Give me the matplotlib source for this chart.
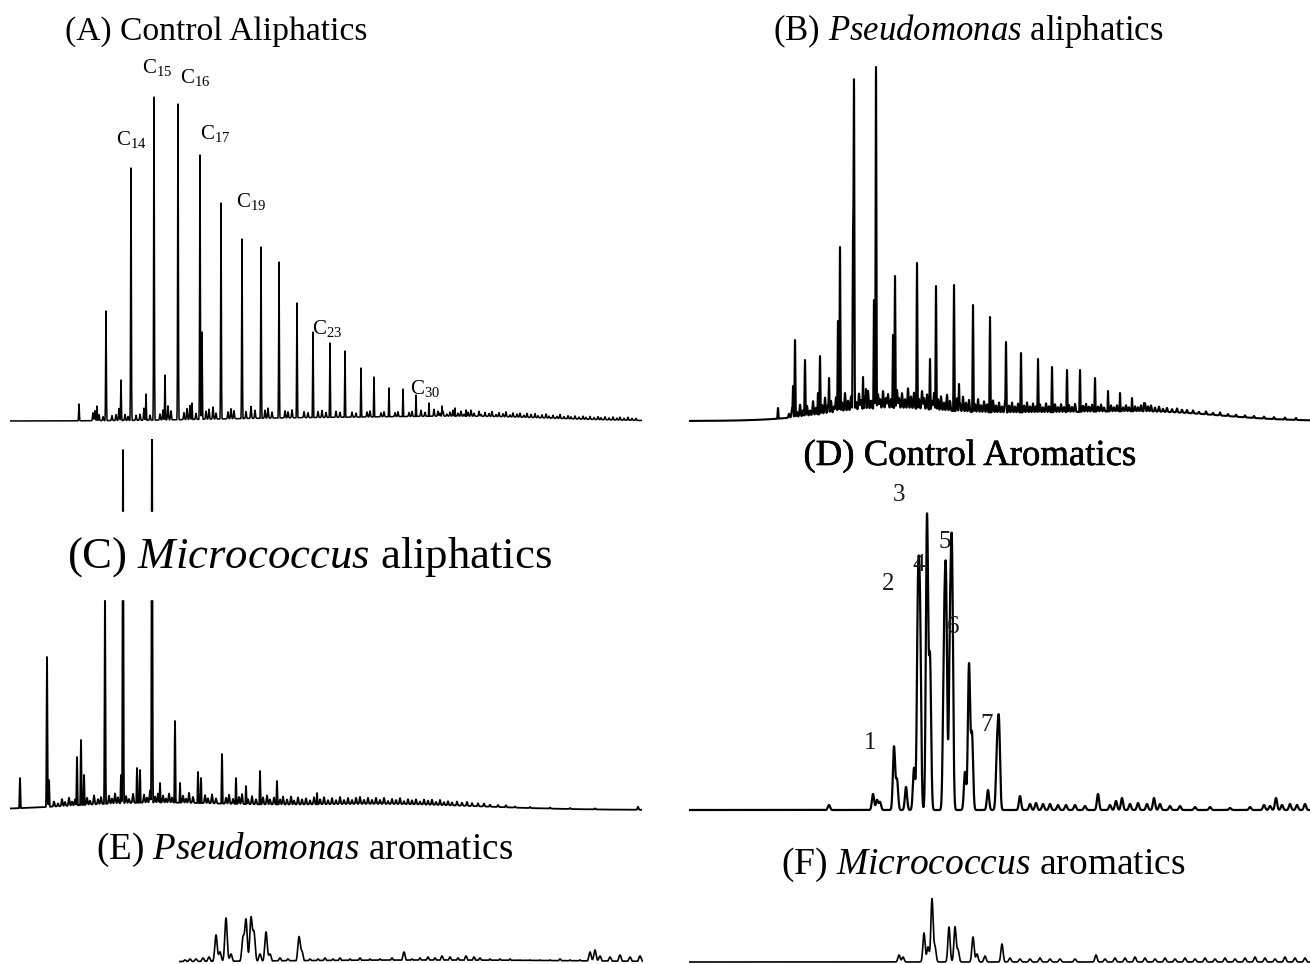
import numpy as np
import matplotlib
matplotlib.use("Agg")
import matplotlib.pyplot as plt
import matplotlib.patheffects as pe

plt.rcParams["font.family"] = ["Liberation Serif", "DejaVu Serif"]
plt.rcParams["mathtext.fontset"] = "custom"
plt.rcParams["mathtext.rm"] = "Liberation Serif"
plt.rcParams["mathtext.it"] = "Liberation Serif:italic"

W, H = 1310, 964

# ---- data: retention time (min) and peak height (abundance, arbitrary units) ----
# (A) control aliphatics
a_rt = [6.9, 8.7, 9.6, 11.1, 12.1, 13.6, 14.4, 15.5, 16.8, 18.2, 19.0, 19.2, 21.1, 23.2,
        25.1, 26.9, 28.7, 30.3, 32.0, 33.5, 35.1, 36.4, 37.9, 39.3, 40.6, 41.9, 43.2, 44.5, 45.6]
a_ht = [17, 15, 110, 41, 253, 27, 324, 46, 317, 18, 266, 89, 218, 182,
        174, 159, 118, 89, 78, 70, 53, 44, 33, 32, 26, 18, 15, 13, 11]
a_noise_rt = [8.3, 8.5, 8.9, 9.3, 10.2, 10.6, 10.9, 11.5, 11.8, 12.6, 13.0, 13.4, 14.0, 15.0,
              15.3, 15.8, 16.1, 17.4, 17.7, 18.0, 18.6, 19.6, 19.9, 20.3, 20.6, 21.8, 22.1, 22.4,
              23.6, 24.1, 24.5, 25.5, 25.8, 26.2, 27.5, 27.8, 28.2, 29.4, 29.8, 30.8, 31.2, 31.6,
              32.6, 33.0, 34.2, 34.6, 35.7, 36.0, 37.1, 37.4, 38.5, 38.8, 39.9, 40.2, 41.1, 41.5,
              42.4, 42.8, 43.0, 43.3, 43.7, 44.0, 44.3, 44.8, 45.1, 45.4, 45.8, 46.1, 46.4, 46.9,
              47.1, 47.5, 47.9, 48.2, 48.6, 48.9, 49.3, 49.6, 50.0, 50.3, 50.7, 51.0, 51.4, 51.7,
              52.1, 52.5, 52.8, 53.2, 53.6, 53.9, 54.3, 54.7, 55.0, 55.4, 55.8, 56.1, 56.5, 56.9,
              57.3, 57.6, 58.0, 58.4, 58.8, 59.1, 59.5, 59.9, 60.3, 60.7, 61.0, 61.4, 61.8, 62.2,
              62.6]
a_noise_ht = [8, 10, 6, 4, 5, 6, 12, 6, 4, 5, 6, 12, 5, 6,
              10, 14, 9, 7, 11, 14, 6, 8, 10, 12, 6, 7, 10, 8,
              7, 12, 8, 8, 10, 6, 7, 6, 8, 6, 5, 6, 7, 5,
              6, 5, 5, 4, 5, 6, 4, 5, 4, 5, 4, 5, 6, 4,
              7, 5, 3, 5, 2, 4, 6, 3, 5, 2, 4, 6, 3, 5,
              2, 4, 3, 5, 2, 4, 3, 5, 2, 4, 3, 4, 2, 4,
              3, 4, 2, 3, 4, 2, 3, 2, 4, 2, 3, 2, 3, 2,
              3, 2, 3, 2, 3, 2, 3, 2, 3, 2, 3, 2, 3, 2,
              2]
a_hump_rt = [30.0, 47.0]
a_hump_ht = [3, 4]
a_hump_sd = [10.0, 8.0]
a_names = ["C$_{14}$", "C$_{15}$", "C$_{16}$", "C$_{17}$", "C$_{19}$", "C$_{23}$", "C$_{30}$"]

# (B) Pseudomonas aliphatics
b_rt = [8.9, 10.4, 10.6, 11.6, 12.9, 13.1, 14.0, 14.9, 15.1, 16.4, 16.5, 17.4, 17.7, 18.5,
        18.7, 20.4, 20.6, 22.8, 24.1, 24.7, 26.5, 27.0, 28.4, 30.1, 31.7, 33.2, 34.9, 36.3,
        37.8, 39.1, 40.6, 41.9, 43.1, 44.3, 45.5]
b_ht = [13, 35, 81, 61, 28, 65, 43, 100, 174, 176, 334, 44, 32, 121,
        354, 86, 145, 158, 62, 135, 136, 37, 116, 104, 79, 68, 62, 54,
        51, 51, 43, 30, 28, 23, 18]
b_noise_rt = [10.0, 10.3, 10.8, 11.1, 11.4, 11.8, 12.1, 12.4, 12.7, 13.3, 13.6, 13.9, 14.2,
              14.5, 14.7, 15.3, 15.6, 15.9, 16.2, 16.7, 17.0, 17.2, 17.6, 17.9, 18.2, 18.9,
              19.1, 19.4, 19.7, 19.9, 20.2, 20.8, 21.0, 21.3, 21.6, 21.9, 22.2, 22.5, 23.0,
              23.3, 23.5, 23.8, 24.3, 24.5, 24.9, 25.2, 25.5, 25.8, 26.1, 26.8, 27.1, 27.4,
              27.7, 28.0, 28.6, 28.9, 29.2, 29.5, 29.8, 30.4, 30.7, 31.0, 31.3, 31.6, 32.0,
              32.3, 32.6, 32.9, 33.5, 33.8, 34.1, 34.4, 34.7, 35.1, 35.4, 35.7, 36.0, 36.6,
              36.9, 37.2, 37.5, 38.0, 38.3, 38.6, 39.4, 39.7, 40.0, 40.3, 40.9, 41.2, 41.5,
              42.2, 42.5, 42.8, 43.4, 43.7, 44.0, 44.6, 44.9, 45.2, 45.6, 45.9, 46.2, 46.6,
              47.0, 47.4, 47.8, 48.3, 48.8, 49.3, 49.8, 50.4, 51.0, 51.7, 52.4, 53.1, 53.9,
              54.7, 55.6, 56.5, 57.5, 58.5, 59.6, 60.7]
b_noise_ht = [4, 9, 5, 12, 6, 10, 5, 14, 7, 9, 16, 8, 12,
              6, 15, 9, 18, 10, 14, 8, 16, 9, 13, 18, 8, 14,
              9, 17, 10, 14, 9, 18, 10, 15, 9, 20, 12, 16, 10,
              18, 11, 15, 9, 17, 11, 14, 8, 16, 10, 13, 8, 15,
              9, 12, 8, 13, 7, 11, 8, 12, 7, 10, 6, 11, 7,
              10, 6, 9, 7, 10, 6, 9, 6, 8, 5, 9, 6, 8,
              5, 8, 5, 7, 5, 8, 6, 8, 5, 7, 5, 7, 4,
              6, 4, 6, 4, 6, 4, 5, 4, 6, 8, 5, 6, 4,
              5, 3, 4, 3, 4, 3, 3, 3, 2, 3, 2, 3, 2,
              2, 2, 2, 2, 2, 2, 2]
b_hump_rt = [19.0, 35.0, 48.0]
b_hump_ht = [10, 8, 5]
b_hump_sd = [5.5, 11.0, 6.0]

# (C) Micrococcus aliphatics
c_rt = [1.0, 3.7, 3.9, 6.7, 7.1, 7.4, 9.5, 11.1, 11.3, 12.7, 13.0, 14.2, 15.0, 16.5,
        17.0, 18.8, 19.1, 21.2, 22.6, 23.6, 25.0, 26.7, 30.7]
c_ht = [32, 153, 30, 53, 70, 35, 215, 35, 360, 42, 40, 400, 27, 89,
        27, 38, 32, 56, 32, 24, 39, 29, 17]
c_noise_rt = [4.4, 4.8, 5.2, 5.5, 5.9, 6.2, 6.5, 7.7, 8.0, 8.4, 8.8, 9.1, 9.9, 10.2, 10.5,
              10.8, 11.6, 11.9, 12.3, 13.4, 13.7, 14.0, 14.5, 14.8, 15.3, 15.6, 15.9, 16.2,
              17.3, 17.6, 17.9, 18.3, 19.5, 19.8, 20.2, 20.6, 21.6, 21.9, 22.3, 22.9, 23.2,
              23.8, 24.2, 24.6, 25.3, 25.7, 26.0, 26.4, 27.0, 27.3, 27.7, 28.1, 28.4, 28.8,
              29.2, 29.6, 30.0, 30.4, 31.0, 31.4, 31.8, 32.2, 32.6, 33.0, 33.4, 33.8, 34.2,
              34.6, 35.0, 35.4, 35.8, 36.2, 36.6, 37.0, 37.4, 37.8, 38.2, 38.6, 39.0, 39.4,
              39.8, 40.2, 40.6, 41.0, 41.4, 41.8, 42.2, 42.6, 43.0, 43.4, 43.8, 44.2, 44.7,
              45.2, 45.7, 46.2, 46.8, 47.4, 48.0, 48.8, 49.6, 50.5, 52.0, 54.0, 56.0, 58.5,
              62.8]
c_noise_ht = [5, 3, 7, 4, 8, 4, 6, 7, 4, 9, 5, 7, 8, 5, 10,
              6, 7, 4, 9, 8, 5, 12, 6, 9, 7, 4, 9, 5,
              7, 4, 10, 6, 8, 5, 9, 5, 6, 9, 5, 7, 10,
              5, 8, 5, 7, 9, 5, 7, 5, 8, 5, 8, 4, 7,
              5, 6, 4, 7, 5, 7, 4, 6, 4, 7, 4, 6, 4,
              6, 7, 4, 6, 4, 6, 4, 6, 3, 5, 4, 6, 3,
              5, 4, 5, 3, 5, 4, 5, 3, 5, 3, 4, 3, 4,
              3, 4, 3, 3, 3, 2, 2, 2, 1, 1, 1, 1, 1,
              3]
c_hump_rt = [14.0, 37.0]
c_hump_ht = [7, 6]
c_hump_sd = [8.0, 10.0]

# (D) control aromatics
d_rt = [14.0, 18.4, 18.8, 19.1, 20.5, 20.8, 21.7, 22.5, 22.9, 23.1, 23.8, 24.1, 25.5, 25.7,
        26.1, 26.3, 27.6, 28.0, 28.3, 29.9, 30.8, 31.0, 33.1, 34.1, 34.7, 35.4, 36.1, 36.9,
        37.7, 38.6, 39.6, 40.9, 42.1, 42.7, 43.3, 44.1, 44.9, 45.8, 46.5, 47.1, 48.1, 49.1,
        50.6, 52.1, 54.1, 56.1, 57.5, 58.1, 58.7, 59.3, 60.1, 60.8, 61.6]
d_ht = [5, 16, 10, 8, 63, 30, 23, 42, 202, 180, 293, 150, 150, 211,
        160, 237, 38, 145, 75, 20, 55, 82, 14, 6, 7, 6, 6, 5,
        5, 5, 4, 16, 5, 9, 12, 6, 7, 6, 12, 6, 4, 4,
        3, 3, 2, 3, 5, 4, 12, 5, 6, 5, 6]
d_names = ["1", "2", "3", "4", "5", "6", "7"]

# (E) Pseudomonas aromatics
e_rt = [0.6, 1.1, 1.7, 2.4, 3.0, 3.7, 4.1, 4.7, 5.2, 6.4, 6.7, 7.2, 7.5, 8.1,
        8.7, 9.1, 10.1, 10.9, 12.0, 12.3, 13.1, 13.9, 14.6, 15.4, 16.1, 17.1, 18.1, 19.1,
        20.1, 21.3, 22.5, 23.3, 24.1, 24.9, 25.6, 26.3, 27.1, 27.9, 28.7, 29.5, 30.1, 31.1,
        32.1, 33.1, 34.1, 35.1, 36.1, 37.1, 38.1, 39.1, 40.1, 41.1, 41.6, 42.1, 43.1, 44.1,
        45.1, 46.1]
e_ht = [2, 3, 3, 4, 5, 27, 10, 44, 8, 24, 42, 44, 29, 8,
        30, 8, 4, 3, 25, 10, 3, 3, 4, 3, 4, 3, 4, 3,
        3, 4, 10, 3, 4, 5, 4, 6, 5, 4, 6, 5, 4, 3,
        3, 3, 2, 2, 2, 2, 3, 2, 2, 10, 12, 6, 5, 7,
        5, 6]
e_hump_rt = [25.0]
e_hump_ht = [2]
e_hump_sd = [15.0]

# (F) Micrococcus aromatics
f_rt = [21.0, 21.4, 23.5, 23.9, 24.3, 24.6, 26.0, 26.6, 26.9, 28.4, 28.8, 29.6, 31.3, 32.1,
        33.1, 34.1, 35.1, 36.1, 37.1, 38.6, 40.7, 41.6, 42.6, 43.6, 44.6, 45.6, 46.6, 47.6,
        48.6, 49.6, 50.6, 51.6, 52.6, 53.6, 54.6, 55.6, 56.6, 57.6, 58.6, 59.6, 60.6, 61.6]
f_ht = [7, 5, 29, 15, 63, 15, 35, 35, 12, 25, 8, 6, 18, 4,
        3, 3, 4, 3, 3, 3, 7, 3, 4, 4, 5, 4, 3, 4,
        3, 4, 3, 4, 3, 4, 3, 4, 5, 4, 3, 5, 4, 4]

titles = ["(A) Control Aliphatics",
          "(B) $\\mathit{Pseudomonas}$ aliphatics",
          "(C) $\\mathit{Micrococcus}$ aliphatics",
          "(D) Control Aromatics",
          "(E) $\\mathit{Pseudomonas}$ aromatics",
          "(F) $\\mathit{Micrococcus}$ aromatics"]


def gauss_sum(x, rt, ht, sd):
    y = np.zeros_like(x)
    for c, h, s in zip(rt, ht, np.broadcast_to(sd, len(rt))):
        y += h * np.exp(-0.5 * ((x - c) / s) ** 2)
    return y


def chrom(x, rt, ht, sd, noise=None, hump=None, noise_sd=0.08):
    base = np.zeros_like(x)
    if hump is not None:
        base += gauss_sum(x, *hump)
    if noise is not None:
        base += gauss_sum(x, noise[0], noise[1], noise_sd)
    return np.maximum(base, gauss_sum(x, rt, ht, sd))


def panel(x0, x1, ybase, ytop, pad=4):
    # 1 min = 10 px, 1 abundance unit = 1 px
    ax = fig.add_axes([x0 / W, 1 - (ybase + pad) / H, (x1 - x0) / W, (ybase + pad - ytop) / H])
    ax.set_xlim(0, (x1 - x0) / 10)
    ax.set_ylim(-pad, ybase - ytop)
    ax.axis("off")
    return ax


fig = plt.figure(figsize=(W / 100, H / 100), dpi=100)

# A
ax = panel(10, 642, 421, 60)
x = np.arange(0, 63.2, 0.01)
ax.plot(x, chrom(x, a_rt, a_ht, 0.035, (a_noise_rt, a_noise_ht), (a_hump_rt, a_hump_ht, a_hump_sd), 0.045),
        color="black", lw=1.1)
for s, (lx, ly) in zip(a_names, [(10.6, 276), (13.2, 348), (17.0, 338), (19.0, 282),
                                 (22.6, 214), (30.2, 87), (40.0, 27)]):
    ax.text(lx, ly, s, fontsize=15, ha="left", va="baseline")

# B
ax = panel(689, 1310, 421, 60)
x = np.arange(0, 62.1, 0.01)
ax.plot(x, chrom(x, b_rt, b_ht, 0.04, (b_noise_rt, b_noise_ht), (b_hump_rt, b_hump_ht, b_hump_sd), 0.055),
        color="black", lw=1.5)

# C
ax = panel(10, 642, 810, 439)
x = np.arange(0, 63.2, 0.01)
ax.plot(x, chrom(x, c_rt, c_ht, 0.04, (c_noise_rt, c_noise_ht), (c_hump_rt, c_hump_ht, c_hump_sd), 0.055),
        color="black", lw=1.3)
ax.axhspan(211, 298, color="white", zorder=5)

# D
ax = panel(689, 1310, 810, 480)
x = np.arange(0, 62.1, 0.01)
ax.plot(x, chrom(x, d_rt, d_ht, 0.11), color="black", lw=1.6)
for s, (lx, ly) in zip(d_names, [(18.1, 67), (19.9, 226), (21.0, 315), (23.0, 245),
                                 (25.6, 268), (26.4, 183), (29.8, 85)]):
    ax.text(lx, ly, s, fontsize=18, ha="center", va="center", color="#1a1a1a")

# E
ax = panel(179, 643, 962, 880)
x = np.arange(0, 46.4, 0.01)
ax.plot(x, chrom(x, e_rt, e_ht, 0.12, None, (e_hump_rt, e_hump_ht, e_hump_sd)), color="black", lw=1.2)

# F
ax = panel(689, 1310, 962, 880)
x = np.arange(0, 62.1, 0.01)
ax.plot(x, chrom(x, f_rt, f_ht, 0.11), color="black", lw=1.2)

# panel titles, scaled to the width they take in the original
spots = [(216, 40, 302), (968, 40, 390), (310, 568, 485),
         (970, 465, 332), (305, 859, 417), (983, 874, 404)]
texts = [fig.text(cx / W, 1 - by / H, t, fontsize=22, ha="center", va="baseline", zorder=10)
         for t, (cx, by, _) in zip(titles, spots)]
texts[3].set_path_effects([pe.withStroke(linewidth=0.4, foreground="black")])
fig.canvas.draw()
r = fig.canvas.get_renderer()
for t, (_, _, tw) in zip(texts, spots):
    t.set_fontsize(t.get_fontsize() * tw / t.get_window_extent(r).width)

fig.savefig("out.png", dpi=100)
